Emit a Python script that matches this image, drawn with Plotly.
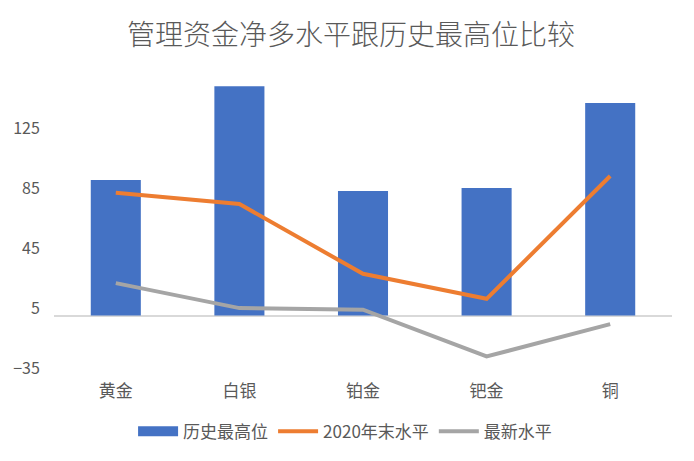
import plotly.graph_objects as go

categories = ["黄金", "白银", "铂金", "钯金", "铜"]
hist_high = [90.5, 153.2, 83.2, 85.2, 141.9]
end_2020 = [82.0, 74.5, 27.9, 11.2, 93.2]
latest = [21.7, 5.0, 3.9, -27.3, -5.7]
tick_vals = [-35, 5, 45, 85, 125]

FONT = "Noto Sans CJK SC"
TXT = "#595959"
BLUE = "#4472C4"

# page body has an 8px default margin, so the figure is drawn 8px smaller
W, H = 686, 453

fig = go.Figure()
fig.add_trace(go.Bar(x=categories, y=hist_high, name="历史最高位", showlegend=False,
                     legendgroup="hist", marker=dict(color=BLUE, line=dict(width=0))))
# legend-only entry so the swatch is a wide rectangle like the reference
fig.add_trace(go.Scatter(x=[None], y=[None], name="历史最高位", mode="lines",
                         legendgroup="hist", line=dict(color=BLUE, width=12)))
fig.add_trace(go.Scatter(x=categories, y=end_2020, name="2020年末水平", mode="lines",
                         line=dict(color="#ED7D31", width=4)))
fig.add_trace(go.Scatter(x=categories, y=latest, name="最新水平", mode="lines",
                         line=dict(color="#A5A5A5", width=4)))

fig.update_layout(
    width=W, height=H,
    margin=dict(l=46, r=22, t=68, b=93, autoexpand=False),
    paper_bgcolor="white", plot_bgcolor="white",
    font=dict(family=FONT, size=16, color=TXT),
    title=dict(text="管理资金净多水平跟历史最高位比较", x=0.5, xanchor="center",
               y=1 - 27 / H, yanchor="middle",
               font=dict(family=FONT, size=28, color=TXT, weight=300)),
    bargap=0.595,
    showlegend=True,
    legend=dict(orientation="h", x=0.471, xanchor="center", y=-0.218, yanchor="middle",
                font=dict(family=FONT, size=17, color=TXT), traceorder="normal",
                itemwidth=40),
    hovermode=False,
)
fig.update_xaxes(showgrid=False, showline=False, zeroline=False, ticks="outside",
                 ticklen=8, tickcolor="rgba(0,0,0,0)", automargin=False,
                 tickfont=dict(family=FONT, size=17, color=TXT))
fig.update_yaxes(range=[-35, 160], tickvals=tick_vals, showgrid=False, showline=False,
                 zeroline=True, zerolinecolor="#D9D9D9", zerolinewidth=1.5,
                 ticks="outside", ticklen=10, tickcolor="rgba(0,0,0,0)", automargin=False,
                 tickfont=dict(family=FONT, size=16, color=TXT))

fig.write_html("out.html")
